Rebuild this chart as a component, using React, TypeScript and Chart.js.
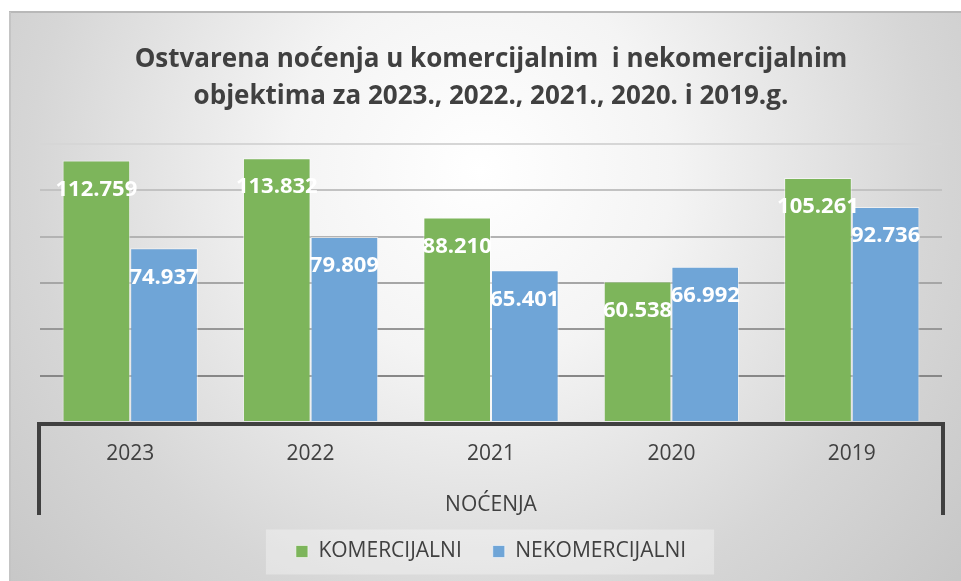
import React, { useEffect, useRef } from 'react';
import { Chart, registerables } from 'chart.js';

Chart.register(...registerables);

const categories = ['2023', '2022', '2021', '2020', '2019'];
const komercijalni = [112759, 113832, 88210, 60538, 105261];
const nekomercijalni = [74937, 79809, 65401, 66992, 92736];
const seriesNames = ['KOMERCIJALNI', 'NEKOMERCIJALNI'];
const titleLines = [
  'Ostvarena noćenja u komercijalnim  i nekomercijalnim',
  'objektima za 2023., 2022., 2021., 2020. i 2019.g.',
];
const axisTitle = 'NOĆENJA';
const yMax = 120000;
const yStep = 20000;

const FONT = "'Open Sans', 'DejaVu Sans', sans-serif";
const TEXT = '#404040';

function fmt(v: number): string {
  return String(v).replace(/\B(?=(\d{3})+(?!\d))/g, '.');
}

const backgroundPlugin = {
  id: 'bgPlugin',
  beforeDraw(chart: any) {
    const { ctx, width, height } = chart;
    ctx.save();
    ctx.fillStyle = '#ffffff';
    ctx.fillRect(0, 0, width, height);
    const g = ctx.createRadialGradient(480, 170, 0, 480, 170, 640);
    g.addColorStop(0, '#ffffff');
    g.addColorStop(0.3, '#f4f4f4');
    g.addColorStop(0.7, '#d6d6d6');
    g.addColorStop(1, '#c6c6c6');
    ctx.fillStyle = g;
    ctx.fillRect(9, 11, width - 9, height - 11);
    ctx.strokeStyle = '#b8b8b8';
    ctx.lineWidth = 2;
    ctx.beginPath();
    ctx.moveTo(9, 12);
    ctx.lineTo(width, 12);
    ctx.stroke();
    ctx.strokeStyle = '#c4c4c4';
    ctx.beginPath();
    ctx.moveTo(10, 12);
    ctx.lineTo(10, height);
    ctx.stroke();

    // legend backdrop
    const legend = chart.legend;
    if (legend) {
      const lo = legend.options.labels;
      const fs = lo.font.size;
      ctx.font = `${fs}px ${FONT}`;
      let w = 0;
      const items = chart.data.datasets.map((d: any) => d.label);
      items.forEach((t: string, i: number) => {
        w += lo.boxWidth + fs / 2 + ctx.measureText(t).width;
        if (i < items.length - 1) w += lo.padding;
      });
      const cx = (legend.left + legend.right) / 2 + 3;
      const cy = legend.top + lo.padding + fs / 2;
      ctx.fillStyle = 'rgba(255,255,255,0.32)';
      ctx.fillRect(cx - w / 2 - 33, cy - 22, w + 58, 45);
    }
    ctx.restore();
  },
};

const framePlugin = {
  id: 'framePlugin',
  afterDatasetsDraw(chart: any) {
    const { ctx, chartArea } = chart;
    const { left, right, bottom } = chartArea;
    ctx.save();
    ctx.strokeStyle = '#404040';
    ctx.lineWidth = 4;
    ctx.lineJoin = 'miter';
    ctx.beginPath();
    ctx.moveTo(left - 1, bottom + 93);
    ctx.lineTo(left - 1, bottom + 2);
    ctx.lineTo(right + 1, bottom + 2);
    ctx.lineTo(right + 1, bottom + 93);
    ctx.stroke();

    // data labels
    ctx.fillStyle = '#ffffff';
    ctx.font = `bold 22px ${FONT}`;
    ctx.textAlign = 'center';
    ctx.textBaseline = 'middle';
    chart.data.datasets.forEach((ds: any, i: number) => {
      const meta = chart.getDatasetMeta(i);
      meta.data.forEach((bar: any, j: number) => {
        const { x, y } = bar.getProps(['x', 'y'], true);
        ctx.fillText(fmt(ds.data[j]), x, y + 29);
      });
    });
    ctx.restore();
  },
};

export default function App() {
  const ref = useRef<HTMLCanvasElement | null>(null);

  useEffect(() => {
    if (!ref.current) return;
    const gridColors = ['rgba(0,0,0,0)', '#878787', '#979797', '#a6a6a6', '#b3b3b3', '#c2c2c2', '#d6d6d6'];
    const chart = new Chart(ref.current, {
      type: 'bar',
      data: {
        labels: categories,
        datasets: [
          {
            label: seriesNames[0],
            data: komercijalni,
            backgroundColor: '#7db55b',
            borderColor: 'rgba(255,255,255,0.55)',
            borderWidth: 1,
            barPercentage: 1,
            categoryPercentage: 0.75,
          },
          {
            label: seriesNames[1],
            data: nekomercijalni,
            backgroundColor: '#6fa5d7',
            borderColor: 'rgba(255,255,255,0.55)',
            borderWidth: 1,
            barPercentage: 1,
            categoryPercentage: 0.75,
          },
        ],
      },
      options: {
        responsive: false,
        animation: false,
        layout: { padding: { left: 40, right: 19, top: 0, bottom: 9 } },
        plugins: {
          title: {
            display: true,
            text: titleLines,
            color: TEXT,
            font: { family: FONT, size: 26, weight: 'bold', lineHeight: 1.42 },
            padding: { top: 41, bottom: 29 },
          },
          legend: {
            position: 'bottom',
            labels: {
              color: TEXT,
              font: { family: FONT, size: 21 },
              boxWidth: 12,
              boxHeight: 12,
              padding: 31,
            },
          },
          tooltip: { enabled: false },
        },
        scales: {
          x: {
            grid: { display: false, drawTicks: false },
            border: { display: false },
            ticks: { color: TEXT, font: { family: FONT, size: 21 }, padding: 20 },
            title: {
              display: true,
              text: axisTitle,
              color: TEXT,
              font: { family: FONT, size: 21, lineHeight: 0.52 },
              padding: { top: 12, bottom: 0 },
            },
          },
          y: {
            min: 0,
            max: yMax,
            ticks: { display: false, stepSize: yStep },
            border: { display: false },
            grid: {
              drawTicks: false,
              lineWidth: 2,
              color: (c: any) => gridColors[c.index] || '#aaaaaa',
            },
          },
        },
      },
      plugins: [backgroundPlugin, framePlugin],
    } as any);
    return () => chart.destroy();
  }, []);

  return (
    <div style={{ position: 'fixed', left: 0, top: 0, width: 961, height: 581 }}>
      <canvas ref={ref} width={961} height={581} />
    </div>
  );
}
